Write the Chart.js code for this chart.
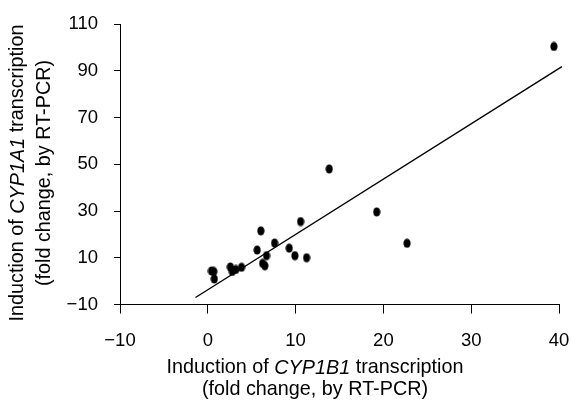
<!DOCTYPE html>
<html>
<head>
<meta charset="utf-8">
<script src="https://cdn.jsdelivr.net/npm/chart.js@4"></script>
<style>
html,body{margin:0;padding:0;background:#fff;}
canvas{display:block;}
</style>
</head>
<body>
<canvas id="c" width="572" height="402"></canvas>
<script>
// CYP1B1 induction (x) vs CYP1A1 induction (y), fold change by RT-PCR
const cyp1b1 = [39.42, 13.83, 19.24, 10.57, 7.61, 9.27, 9.92, 11.25, 22.69, 6.04, 5.62, 6.69, 6.24, 6.50, 0.42, 0.68, 0.74, 2.57, 2.79, 3.19, 3.84];
const cyp1a1 = [100.4, 48.0, 29.6, 25.5, 16.3, 14.1, 10.9, 10.0, 16.2, 21.5, 13.3, 10.9, 7.6, 6.6, 4.35, 4.13, 0.92, 6.06, 4.13, 4.99, 5.93];
// regression line end points
const fitX = [-1.4, 40.33];
const fitY = [-7.0, 91.8];
// ticks
const xTickValues = [-10, 0, 10, 20, 30, 40];
const xTickLabels = ['\u221210', '0', '10', '20', '30', '40'];
const yTickValues = [-10, 10, 30, 50, 70, 90, 110];
const yTickLabels = ['\u221210', '10', '30', '50', '70', '90', '110'];

const FONT = "'Liberation Sans', Arial, Helvetica, sans-serif";

// ellipse marker
const dot = document.createElement('canvas');
dot.width = 8; dot.height = 10;
(function(){
  const g = dot.getContext('2d');
  g.fillStyle = '#000';
  g.beginPath();
  g.ellipse(4, 5, 3.6, 4.6, 0, 0, Math.PI * 2);
  g.fill();
})();

function drawRich(ctx, parts, cx, cy, size) {
  let total = 0;
  const widths = parts.map(p => {
    ctx.font = (p[1] ? 'italic ' : '') + size + 'px ' + FONT;
    const w = ctx.measureText(p[0]).width;
    total += w;
    return w;
  });
  let x = cx - total / 2;
  ctx.textBaseline = 'middle';
  ctx.textAlign = 'left';
  parts.forEach((p, i) => {
    ctx.font = (p[1] ? 'italic ' : '') + size + 'px ' + FONT;
    ctx.fillText(p[0], x, cy);
    x += widths[i];
  });
}

const TITLE_SIZE = 19.8;
const titlesPlugin = {
  id: 'titles',
  afterDraw(chart) {
    const ctx = chart.ctx;
    ctx.save();
    ctx.fillStyle = '#000';
    drawRich(ctx, [['Induction of ', false], ['CYP1B1', true], [' transcription', false]], 315, 368, TITLE_SIZE);
    drawRich(ctx, [['(fold change, by RT-PCR)', false]], 315, 390, TITLE_SIZE);
    ctx.save();
    ctx.translate(18, 173);
    ctx.rotate(-Math.PI / 2);
    drawRich(ctx, [['Induction of ', false], ['CYP1A1', true], [' transcription', false]], 0, 0, TITLE_SIZE);
    ctx.restore();
    ctx.save();
    ctx.translate(45, 173);
    ctx.rotate(-Math.PI / 2);
    drawRich(ctx, [['(fold change, by RT-PCR)', false]], 0, 0, TITLE_SIZE);
    ctx.restore();
    ctx.restore();
  }
};

const points = cyp1b1.map((x, i) => ({ x: x, y: cyp1a1[i] }));
const fit = fitX.map((x, i) => ({ x: x, y: fitY[i] }));

new Chart(document.getElementById('c'), {
  type: 'scatter',
  data: {
    datasets: [
      {
        type: 'line',
        data: fit,
        borderColor: '#000',
        borderWidth: 1.4,
        pointRadius: 0,
        fill: false,
        clip: false,
        order: 2
      },
      {
        data: points,
        pointStyle: dot,
        backgroundColor: '#000',
        borderColor: '#000',
        order: 1
      }
    ]
  },
  options: {
    responsive: false,
    animation: false,
    devicePixelRatio: 1,
    layout: { padding: { left: 0, right: 13, top: 24, bottom: 0 } },
    plugins: { legend: { display: false }, tooltip: { enabled: false } },
    scales: {
      x: {
        type: 'linear',
        min: -10, max: 40,
        afterBuildTicks(s) { s.ticks = xTickValues.map(v => ({ value: v })); },
        afterFit(s) { s.height = 97.5; s.paddingLeft = 0; s.paddingRight = 0; },
        grid: { display: true, drawOnChartArea: false, drawTicks: true, tickLength: 9, color: '#000', lineWidth: 1 },
        border: { display: true, color: '#000', width: 1 },
        ticks: {
          padding: 16,
          color: '#000',
          font: { family: FONT, size: 18.5 },
          maxRotation: 0,
          callback: (v, i) => xTickLabels[i]
        }
      },
      y: {
        type: 'linear',
        min: -10, max: 110,
        afterBuildTicks(s) { s.ticks = yTickValues.map(v => ({ value: v })); },
        afterFit(s) { s.width = 120; s.paddingTop = 0; s.paddingBottom = 0; },
        grid: { display: true, drawOnChartArea: false, drawTicks: true, tickLength: 6, color: '#000', lineWidth: 1 },
        border: { display: true, color: '#000', width: 1 },
        ticks: {
          padding: 16,
          color: '#000',
          font: { family: FONT, size: 18.5 },
          callback: (v, i) => yTickLabels[i]
        }
      }
    }
  },
  plugins: [titlesPlugin]
});
</script>
</body>
</html>
